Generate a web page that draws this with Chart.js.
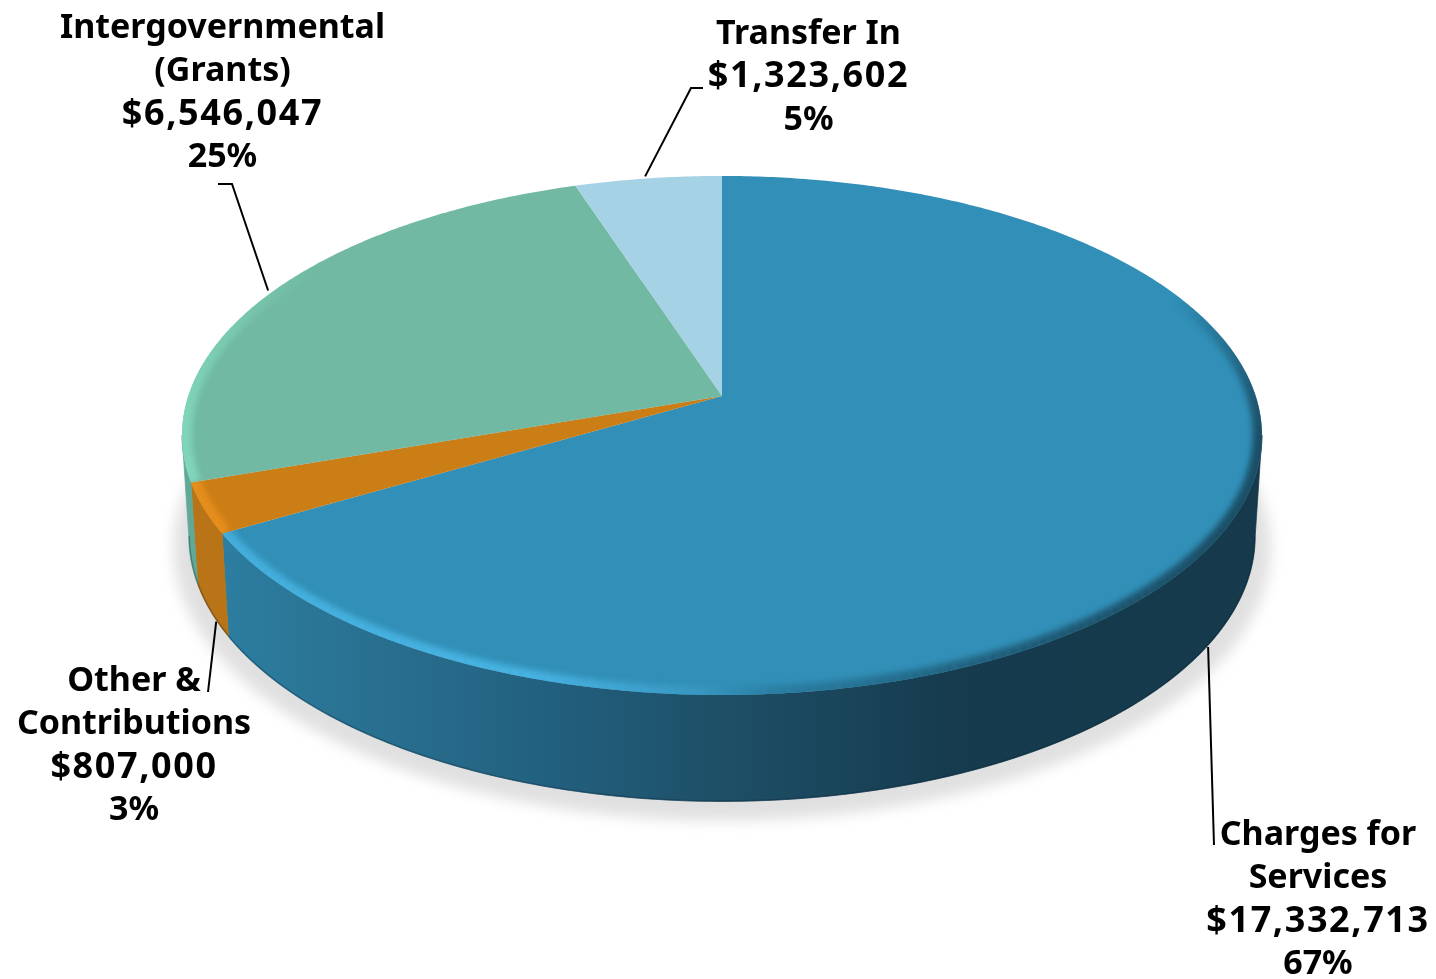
<!DOCTYPE html>
<html>
<head>
<meta charset="utf-8">
<style>
  html, body { margin: 0; padding: 0; background: #fff; }
  #revenue-pie { display: block; }
</style>
<script src="https://cdn.jsdelivr.net/npm/chart.js@4"></script>
</head>
<body>
<canvas id="revenue-pie" width="1436" height="979"></canvas>
<script>
// chart data
var categories = ["Charges for Services", "Other & Contributions", "Intergovernmental (Grants)", "Transfer In"];
var amounts = [17332713, 807000, 6546047, 1323602];
var percentLabels = ["67%", "3%", "25%", "5%"];
var nameLines = [["Charges for", "Services"], ["Other &", "Contributions"], ["Intergovernmental", "(Grants)"], ["Transfer In"]];

// slice styles
var topColors = ["#3290b8", "#cc7e16", "#72b9a3", "#a5d2e4"];
var wallColors = ["#2a7090", "#b87416", "#62a896", "#a5d2e4"];

// projection of the pie disc, fitted to the picture
var view = {
  cx: 722, k: 0.152,
  top: { cy: 396, a: 533.7, b: 253.5 },
  bottom: { cy: 496, a: 527, b: 259 }
};

// label centres and leader elbows
var labelLayout = [
  { x: 1318, y: 835, leader: [[1214, 845]], level: "bottom", dx: -8, dy: 11 },
  { x: 134, y: 681, leader: [[208, 692]], level: "bottom", dx: 6, dy: 11 },
  { x: 222.5, y: 28, leader: [[232, 184], [218, 184]], level: "top", dx: -6, dy: 0 },
  { x: 808.5, y: 34, leader: [[691, 88], [703, 88]], level: "top", dx: -3, dy: -2 }
];
var lineHeight = 43.2;

function project(angle, level, r) {
  var u = Math.cos(angle) * (r || 1);
  var v = -Math.sin(angle) * (r || 1);
  var w = 1 + view.k * v;
  return [view.cx + level.a * u / w, level.cy - level.b * v / w];
}

function tracePath(ctx, from, to, level, r, first) {
  var steps = Math.max(2, Math.ceil(Math.abs(to - from) / 0.01));
  for (var i = 0; i <= steps; i++) {
    var p = project(from + (to - from) * i / steps, level, r);
    if (i == 0 && first) ctx.moveTo(p[0], p[1]);
    else ctx.lineTo(p[0], p[1]);
  }
}

function topSlicePath(ctx, arc) {
  ctx.beginPath();
  ctx.moveTo(view.cx, view.top.cy);
  tracePath(ctx, arc.startAngle, arc.endAngle, view.top, 1, false);
  ctx.closePath();
}

function drawShadow(ctx) {
  ctx.save();
  ctx.filter = "blur(7px)";
  ctx.fillStyle = "#e0e0e0";
  ctx.translate(0, 9);
  ctx.beginPath();
  tracePath(ctx, 0, Math.PI * 2, view.bottom, 1.028, true);
  ctx.closePath();
  ctx.fill();
  ctx.restore();
}

function wallFill(ctx, i) {
  if (i != 0) return wallColors[i];
  var g = ctx.createLinearGradient(226, 0, 1262, 0);
  g.addColorStop(0, "#2c7da0");
  g.addColorStop(0.12, "#2a7292");
  g.addColorStop(0.32, "#225f7e");
  g.addColorStop(0.47, "#1e5068");
  g.addColorStop(0.7, "#163b4e");
  g.addColorStop(1, "#163a4c");
  return g;
}

function drawWalls(ctx, arcs) {
  // the drum silhouette runs between the widest points of the two ellipses
  var from = view.k, to = Math.PI - view.k;
  arcs.forEach(function(arc, i) {
    var s = Math.max(arc.startAngle, from);
    var e = Math.min(arc.endAngle, to);
    if (e <= s) return;
    ctx.beginPath();
    tracePath(ctx, s, e, view.top, 1, true);
    tracePath(ctx, e, s, view.bottom, 1, false);
    ctx.closePath();
    ctx.fillStyle = wallFill(ctx, i);
    ctx.fill();
    ctx.strokeStyle = wallFill(ctx, i);
    ctx.lineWidth = 0.7;
    ctx.stroke();
    // darker line on the bottom edge
    ctx.beginPath();
    tracePath(ctx, s, e, view.bottom, 0.999, true);
    ctx.strokeStyle = "rgba(5,30,45,0.3)";
    ctx.lineWidth = 1.5;
    ctx.stroke();
  });
}

function rimStyle(ctx, i) {
  if (i == 1) return "#ea9220";
  if (i == 2) return "#84dcc0";
  var g = ctx.createLinearGradient(226, 0, 1262, 0);
  g.addColorStop(0, "#48b4e2");
  g.addColorStop(0.29, "#4ab6e6");
  g.addColorStop(0.45, "#3a9ac4");
  g.addColorStop(0.53, "#2a7ca0");
  g.addColorStop(0.75, "#1f5a75");
  g.addColorStop(1, "#173f53");
  return g;
}

// soft bevel along the near edge, fading out towards the back
function drawRim(ctx, arc, i) {
  var s = i == 0 ? Math.max(arc.startAngle, -0.45) : arc.startAngle;
  var e = i == 2 ? Math.min(arc.endAngle, Math.PI + 0.6) : arc.endAngle;
  var steps = Math.ceil((e - s) / 0.02);
  ctx.save();
  topSlicePath(ctx, arc);
  ctx.clip();
  ctx.filter = "blur(3px)";
  ctx.strokeStyle = rimStyle(ctx, i);
  ctx.lineWidth = i == 0 ? 13 : 15;
  for (var n = 0; n < steps; n++) {
    var a = s + (e - s) * n / steps;
    var b = s + (e - s) * (n + 1.2) / steps;
    var fade = 1;
    if (i == 0) fade = Math.min(1, (a + 0.45) / 0.6);
    if (i == 2) fade = Math.min(1, (Math.PI + 0.6 - a) / 0.7);
    ctx.globalAlpha = fade;
    ctx.beginPath();
    tracePath(ctx, a, b, view.top, 0.997, true);
    ctx.stroke();
  }
  ctx.restore();
}

function drawTop(ctx, arcs) {
  arcs.forEach(function(arc, i) {
    topSlicePath(ctx, arc);
    ctx.fillStyle = topColors[i];
    ctx.fill();
    if (i != 3) drawRim(ctx, arc, i);
  });
}

function drawLabels(ctx, arcs) {
  ctx.save();
  ctx.fillStyle = "#000";
  ctx.strokeStyle = "#000";
  ctx.textAlign = "center";
  ctx.textBaseline = "middle";
  arcs.forEach(function(arc, i) {
    var spot = labelLayout[i];
    var names = nameLines[i];
    var n = names.length;
    ctx.font = "700 34px 'Noto Sans'";
    ctx.letterSpacing = "0px";
    names.forEach(function(line, row) {
      ctx.fillText(line, spot.x, spot.y + row * lineHeight);
    });
    ctx.fillText(percentLabels[i], spot.x, spot.y + (n + 1) * lineHeight);
    ctx.font = "700 36px 'Noto Sans'";
    ctx.letterSpacing = "1.6px";
    ctx.fillText("$" + amounts[i].toLocaleString("en-US"), spot.x, spot.y + n * lineHeight);
    var p = project((arc.startAngle + arc.endAngle) / 2, view[spot.level], 1);
    ctx.lineWidth = 2;
    ctx.beginPath();
    ctx.moveTo(p[0] + spot.dx, p[1] + spot.dy);
    spot.leader.forEach(function(q) { ctx.lineTo(q[0], q[1]); });
    ctx.stroke();
  });
  ctx.restore();
}

var drum = {
  id: "drum",
  beforeDatasetsDraw: function(chart) {
    var ctx = chart.ctx;
    var arcs = chart.getDatasetMeta(0).data;
    drawShadow(ctx);
    drawWalls(ctx, arcs);
    drawTop(ctx, arcs);
    drawLabels(ctx, arcs);
    return false;
  }
};

var chart = new Chart(document.getElementById("revenue-pie"), {
  type: "pie",
  data: {
    labels: categories,
    datasets: [{ data: amounts, backgroundColor: topColors, borderWidth: 0 }]
  },
  options: {
    responsive: false,
    devicePixelRatio: 1,
    animation: false,
    plugins: { legend: { display: false }, tooltip: { enabled: false } }
  },
  plugins: [drum]
});
</script>
</body>
</html>
